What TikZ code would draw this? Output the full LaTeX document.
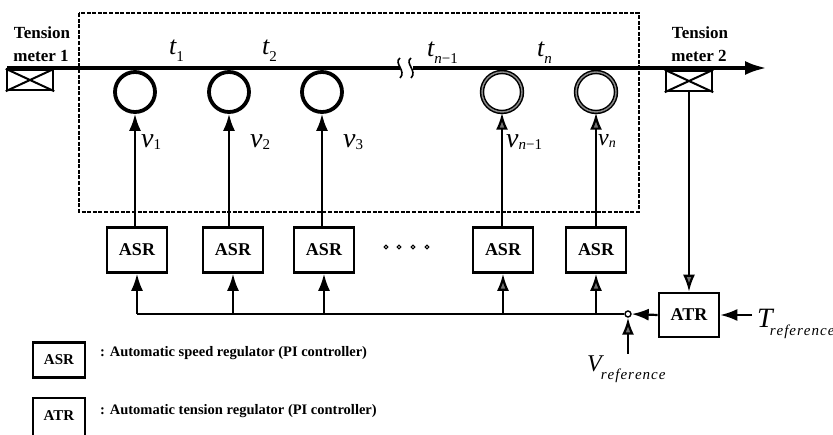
\documentclass[tikz,border=0pt]{standalone}
\usepackage{fontspec}
\setmainfont{Liberation Serif}
\usetikzlibrary{arrows.meta}
\newcommand\fsz[1]{\fontsize{#1}{#1}\selectfont}
% large italic symbol with a lowered subscript
\newcommand\symsub[5]{{\fsz{#1}\itshape #2}\raisebox{-#5}{\fsz{#3}#4}}
\newcommand\refword{r\kern1pt e\kern1pt f\kern1pt e\kern1pt r\kern1pt e\kern1pt n\kern1pt c\kern1pt e}
\begin{document}
\begin{tikzpicture}[x=1pt,y=-1pt,
  wire/.style={line width=2.6pt},
  mainline/.style={line width=4pt},
  arr/.style={line width=2.2pt,-{Latex[length=17pt,width=12pt]}},
  garr/.style={line width=2.2pt,-{Latex[length=17pt,width=12pt,fill=black!55]}},
  roller/.style={circle,draw,line width=3.8pt,minimum size=40pt,inner sep=0pt},
  groller/.style={circle,draw,line width=1.5pt,double=black!45,double distance=1.4pt,minimum size=40pt,inner sep=0pt},
  regbox/.style={draw,line width=2.6pt,minimum width=60pt,minimum height=45pt,inner sep=0pt,font=\fsz{18}\bfseries},
  legbox/.style={draw,line width=2.2pt,minimum width=52pt,minimum height=35pt,inner sep=0pt,font=\fsz{15}\bfseries},
  meter/.style={draw,line width=2.4pt,minimum width=46pt,minimum height=20pt,inner sep=0pt},
  lbl/.style={inner sep=0pt,font=\fsz{17}\bfseries},
  legtxt/.style={inner sep=0pt,anchor=base west,font=\fsz{14.5}\bfseries},
  sym/.style={inner sep=0pt,anchor=base west}]
\useasboundingbox (0,0) rectangle (833,435);
\clip (0,0) rectangle (833,435);

% group of driven rollers
\draw[line width=2.2pt,dash pattern=on 4pt off 1.6pt] (79,13) rectangle (639,212);

% tension meters
\node[meter] (tm1) at (30,80) {};
\draw[line width=2pt] (tm1.north west) -- (tm1.south east) (tm1.south west) -- (tm1.north east);
\node[meter] (tm2) at (689,81) {};
\draw[line width=2pt] (tm2.north west) -- (tm2.south east) (tm2.south west) -- (tm2.north east);
\node[lbl,anchor=base] (tm1a) at (42,39) {Tension};
\node[lbl,anchor=base] (tm1b) at (41,62) {meter 1};
\node[lbl,anchor=base] (tm2a) at (700,39) {Tension};
\node[lbl,anchor=base] (tm2b) at (699,62) {meter 2};

% strip with a break mark
\coordinate (lstart) at (7,68);
\coordinate (brkL) at (400,68);
\coordinate (brkR) at (413,68);
\coordinate (lend) at (767,68);
\draw[mainline] (lstart) -- (brkL);
\draw[mainline,-{Latex[length=22pt,width=14pt]}] (brkR) -- (lend);
\draw[line width=1.6pt] (400,58) .. controls (393,63) and (407,71) .. (400,78);
\draw[line width=1.6pt] (411,58) .. controls (404,63) and (418,71) .. (411,78);

% rollers
\node[roller] (r1) at (135,92) {};
\node[roller] (r2) at (229,92) {};
\node[roller] (r3) at (322,92) {};
\node[groller] (r4) at (502,92) {};
\node[groller] (r5) at (596,92) {};

% tension labels
\node[sym] (t1) at (169,55) {\symsub{26}{t}{15}{1}{7pt}};
\node[sym] (t2) at (262,55) {\symsub{26}{t}{15}{2}{7pt}};
\node[sym] (t3) at (427,57) {\symsub{26}{t}{15}{{\itshape n}−1}{7pt}};
\node[sym] (t4) at (537,57) {\symsub{26}{t}{15}{{\itshape n}}{7pt}};

% speed regulators
\node[regbox] (asr1) at (137,250) {ASR};
\node[regbox] (asr2) at (233,250) {ASR};
\node[regbox] (asr3) at (324,250) {ASR};
\node[regbox] (asr4) at (503,250) {ASR};
\node[regbox] (asr5) at (596,250) {ASR};
\foreach \px in {386,399,413,427} \draw[line width=1.1pt] (\px,247) circle (1.9pt);

\draw[arr]  (asr1.north -| r1) -- (r1.south);
\draw[arr]  (asr2.north -| r2) -- (r2.south);
\draw[arr]  (asr3.north -| r3) -- (r3.south);
\draw[garr] (asr4.north -| r4) -- (r4.south);
\draw[garr] (asr5.north -| r5) -- (r5.south);

% speed labels
\node[sym] (v1) at (141,148) {\symsub{28}{v}{15}{1}{2pt}};
\node[sym] (v2) at (250,148) {\symsub{28}{v}{15}{2}{2pt}};
\node[sym] (v3) at (343,148) {\symsub{28}{v}{15}{3}{2pt}};
\node[sym] (v4) at (506,148) {\symsub{28}{v}{15}{{\itshape n}−1}{2pt}};
\node[sym] (v5) at (598,146) {\symsub{24}{v}{14}{{\itshape n}}{2pt}};

% tension regulator and reference summing point
\node[regbox,minimum height=44pt] (atr) at (689,315) {ATR};
\node[circle,draw,line width=1.4pt,fill=white,minimum size=6pt,inner sep=0pt] (j) at (628,314) {};
\coordinate (tref) at (752,315);
\coordinate (vref) at (628,354);
\draw[garr] (tm2.south) -- (atr.north);
\draw[arr] (atr.west) -- (j.east);
\draw[arr] (tref) -- (atr.east);
\draw[garr] (vref) -- (j.south);

% speed reference bus
\coordinate (b1) at (asr1.south |- j);
\draw[wire] (j.west) -- (b1);
\draw[arr]  (b1) -- (asr1.south);
\draw[arr]  (asr2.south |- j) -- (asr2.south);
\draw[arr]  (asr3.south |- j) -- (asr3.south);
\draw[garr] (asr4.south |- j) -- (asr4.south);
\draw[garr] (asr5.south |- j) -- (asr5.south);

\node[sym] (Tr) at (757,328) {{\fsz{28}\itshape T}\kern-3pt\raisebox{-8pt}{\fsz{15}\itshape\refword}};
\node[sym] (Vr) at (587,372) {{\fsz{24}\itshape V}\kern-1pt\raisebox{-8pt}{\fsz{15}\itshape\refword}};

% legend
\node[legbox] (lasr) at (59,360) {ASR};
\node[legtxt] (lasrt) at (100,357) {: Automatic speed regulator (PI controller)};
\draw[line width=2.2pt] (33,440) -- (33,398) -- (85,398) -- (85,440);
\node[inner sep=0pt,font=\fsz{15}\bfseries] (latr) at (59,416) {ATR};
\node[legtxt] (latrt) at (100,415) {: Automatic tension regulator (PI controller)};
\end{tikzpicture}
\end{document}
